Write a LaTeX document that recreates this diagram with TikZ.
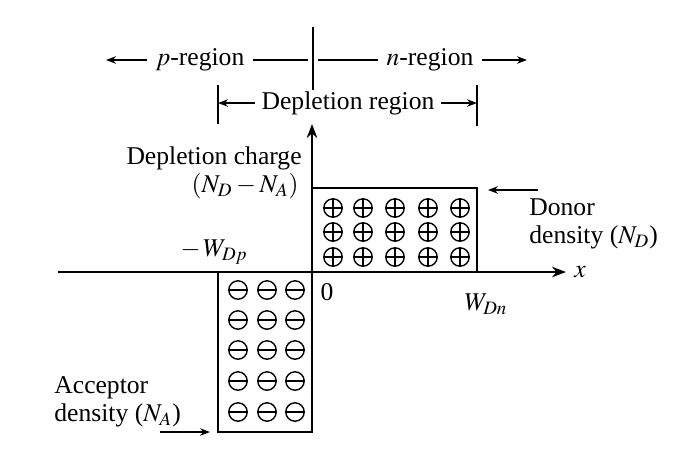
\documentclass[tikz,border=0pt]{standalone}
\usepackage{mathptmx}
\usepackage{fontspec}
\setmainfont{Liberation Serif}
\usetikzlibrary{arrows.meta, positioning, calc}

\tikzset{
  lbl/.style={font=\fontsize{12.8}{14}\selectfont, inner sep=1pt},
  chg/.style={circle, draw, line width=0.7pt, minimum size=9.2pt, inner sep=0pt},
  pluschg/.style={chg, path picture={
      \draw[line width=0.7pt] (path picture bounding box.west) -- (path picture bounding box.east)
        (path picture bounding box.north) -- (path picture bounding box.south);}},
  minuschg/.style={chg, path picture={
      \draw[line width=0.7pt] (path picture bounding box.west) -- (path picture bounding box.east);}},
  axis/.style={line width=1.1pt},
  pointer/.style={line width=0.7pt, -{Stealth[length=5pt]}},
}

\begin{document}
\begin{tikzpicture}[x=0.5pt, y=-0.5pt]
  \useasboundingbox (0,0) rectangle (675,468);

  % axes
  \coordinate (O) at (312,272);
  \coordinate (xL) at (58,272);
  \coordinate (xR) at (566,272);
  \coordinate (yT) at (312,124);
  \draw[axis, -{Stealth[length=7pt]}] (xL) -- (xR);
  \draw[axis, -{Stealth[length=7pt]}] (O) -- (yT);
  \node[lbl, right=3pt of xR] (xlab) {$x$};
  \node[lbl] (zero) at (327,292) {0};

  % charge boxes
  \draw[axis] (O) rectangle (477,188);
  \draw[axis] (218,272) rectangle (312,432);
  \foreach \cx in {333,363,395,428,460}
    \foreach \cy in {208,232,257}
      \node[pluschg] (pl-\cx-\cy) at (\cx,\cy) {};
  \foreach \cx in {238,267,295}
    \foreach \cy in {290,320,350,381,412}
      \node[minuschg] (mi-\cx-\cy) at (\cx,\cy) {};

  % region labels
  \node[lbl] (preg) at (200,60) {$p$-region};
  \node[lbl] (nreg) at (430,60) {$n$-region};
  \coordinate (divT) at (313,27);
  \coordinate (divB) at (313,90);
  \coordinate (div) at (313,60);
  \coordinate (pL) at (106,60);
  \coordinate (nR) at (527,60);
  \draw[line width=0.7pt] (divT) -- (divB);
  \draw[pointer] (preg.west) ++(-6,0) -- (pL);
  \draw[line width=0.7pt] (preg.east) ++(6,0) -- ($(div)+(-5,0)$);
  \draw[line width=0.7pt] ($(div)+(5,0)$) -- ($(nreg.west)+(-6,0)$);
  \draw[pointer] (nreg.east) ++(6,0) -- (nR);

  \node[lbl] (dep) at (348,103) {Depletion region};
  \coordinate (dL) at (218,103);
  \coordinate (dR) at (477,103);
  \draw[line width=0.7pt] (218,85) -- (218,124);
  \draw[line width=0.7pt] (477,85) -- (477,126);
  \draw[pointer] (dep.west) ++(-4,0) -- (dL);
  \draw[pointer] (dep.east) ++(4,0) -- (dR);

  % axis labels
  \node[lbl, anchor=east] (dc) at (304,158) {Depletion charge};
  \node[lbl, anchor=east] (dcN) at (301,186) {$(N_D - N_A)$};
  \node[lbl, anchor=east] (wdp) at (250,252) {$-\,W_{Dp}$};
  \node[lbl] (wdn) at (486,304) {$W_{Dn}$};

  % densities
  \node[lbl, align=left, anchor=north west] (dd) at (527,196) {Donor\\density ($N_D$)};
  \coordinate (ddS) at (538,190);
  \coordinate (ddE) at (488,190);
  \draw[pointer] (ddS) -- (ddE);
  \node[lbl, align=left, anchor=north west] (ad) at (52,374) {Acceptor\\density ($N_A$)};
  \coordinate (adS) at (160,432);
  \coordinate (adE) at (210,432);
  \draw[pointer] (adS) -- (adE);
\end{tikzpicture}
\end{document}
